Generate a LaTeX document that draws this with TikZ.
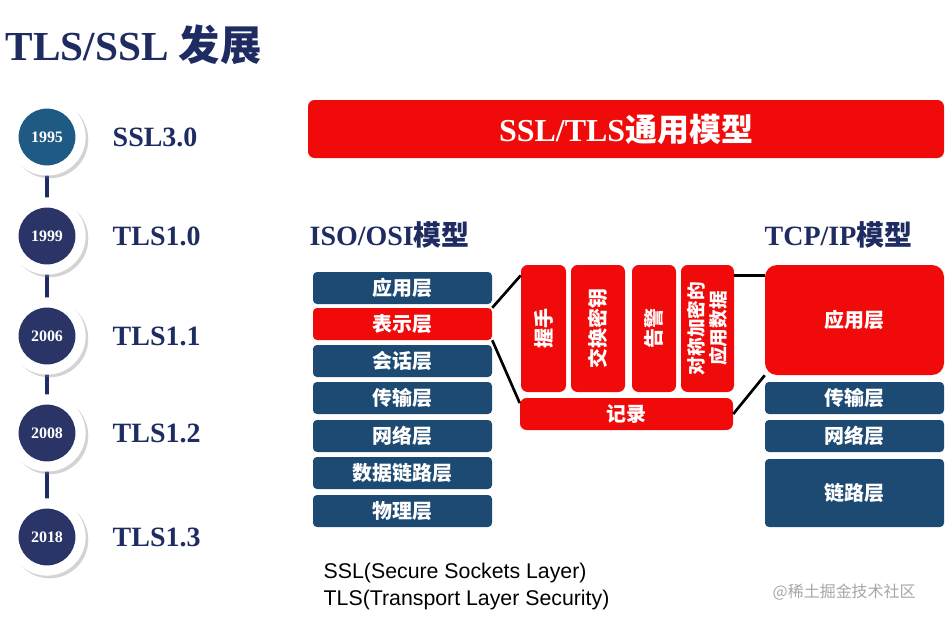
\documentclass[tikz,border=0pt]{standalone}
\usepackage{fontspec}
\setmainfont{Liberation Serif}
\setsansfont{Liberation Sans}
\newfontfamily\cjk{Noto Sans CJK SC}
\usetikzlibrary{shadows}
\definecolor{navy}{HTML}{1E2C62}
\definecolor{teal}{HTML}{1F5A85}
\definecolor{dnavy}{HTML}{2A3466}
\definecolor{lblue}{HTML}{1C4A72}
\definecolor{tred}{HTML}{F00A0A}
\begin{document}
\begin{tikzpicture}[x=0.0264cm,y=-0.0264cm,
 year/.style={circle,minimum size=1.5cm,inner sep=0,text=white,font=\bfseries\fontsize{12}{12}\selectfont},
 ver/.style={anchor=west,text=navy,font=\bfseries\fontsize{21}{21}\selectfont},
 lay/.style={rounded corners=3pt,fill=lblue,text=white,font=\cjk\bfseries\fontsize{15}{15}\selectfont,inner sep=0},
 red/.style={rounded corners=5pt,fill=tred,text=white,font=\cjk\bfseries\fontsize{15}{15}\selectfont,inner sep=0},
 vt/.style={rotate=90,text=white,font=\cjk\bfseries\fontsize{15}{15}\selectfont},
 hd/.style={anchor=west,text=navy,font=\bfseries\fontsize{21}{21}\selectfont}]
\useasboundingbox (0,0) rectangle (951,621);
\node[anchor=west,text=navy,font=\bfseries\fontsize{31}{31}\selectfont] (title) at (1,45) {TLS/SSL {\cjk 发展}};
\draw[navy,line width=2.5pt] (47,137) -- (47,537);
\foreach \y/\t/\c/\v/\n in {137/1995/teal/SSL3.0/a,236/1999/dnavy/TLS1.0/b,336/2006/dnavy/TLS1.1/c,433/2008/dnavy/TLS1.2/d,537/2018/dnavy/TLS1.3/e}{
 \fill[white,drop shadow={opacity=0.35,shadow xshift=2pt,shadow yshift=-2pt}] (47,\y) circle[radius=1.02cm];
 \node[year,fill=\c] (y\n) at (47,\y) {\t};
 \node[ver] (v\n) at (108,\y) {\v};
}
\node[red,minimum width=636*0.0264cm,minimum height=58*0.0264cm,font=\bfseries\fontsize{24}{24}\selectfont] (banner) at (626,129) {SSL/TLS{\cjk 通用模型}};
\node[hd] (iso) at (305,235) {ISO/OSI{\cjk 模型}};
\node[hd] (tcp) at (760,235) {TCP/IP{\cjk 模型}};
\foreach \y/\t/\n/\s in {288/应用层/l1/lay,324/表示层/l2/red,361/会话层/l3/lay,398/传输层/l4/lay,436/网络层/l5/lay,473/数据链路层/l6/lay,511/物理层/l7/lay}{
 \node[\s,rounded corners=3pt,minimum width=179*0.0264cm,minimum height=32*0.0264cm] (\n) at (402.5,\y) {\t};
}
\node[red,minimum width=45*0.0264cm,minimum height=127*0.0264cm] (hs) at (543.5,328.5) {};
\node[vt] at (hs) {握手};
\node[red,minimum width=54*0.0264cm,minimum height=127*0.0264cm] (kx) at (598,328.5) {};
\node[vt] at (kx) {交换密钥};
\node[red,minimum width=44*0.0264cm,minimum height=127*0.0264cm] (al) at (654,328.5) {};
\node[vt] at (al) {告警};
\node[red,minimum width=53*0.0264cm,minimum height=127*0.0264cm] (ad) at (707.5,328.5) {};
\node[vt,align=center,font=\cjk\bfseries\fontsize{14}{16}\selectfont] at (ad) {对称加密的\\应用数据};
\node[red,minimum width=213*0.0264cm,minimum height=32*0.0264cm] (rec) at (626.5,414) {记录};
\node[red,rounded corners=9pt,minimum width=179*0.0264cm,minimum height=110*0.0264cm] (app) at (854.5,320) {应用层};
\node[lay,minimum width=179*0.0264cm,minimum height=32*0.0264cm] (tr) at (854.5,398) {传输层};
\node[lay,minimum width=179*0.0264cm,minimum height=32*0.0264cm] (nw) at (854.5,436) {网络层};
\node[lay,minimum width=179*0.0264cm,minimum height=68*0.0264cm] (lk) at (854.5,493) {链路层};
\draw[line width=2pt] (l2.north east) -- ([yshift=-8pt]hs.north west);
\draw[line width=2pt] (l2.south east) -- ([yshift=-4pt]rec.north west);
\draw[line width=2pt] ([yshift=-8pt]ad.north east) -- ([yshift=-8pt]app.north west);
\draw[line width=2pt] (rec.east) -- (app.south west);
\node[anchor=west,font=\sffamily\fontsize{16}{16}\selectfont] (ssl) at (319,573) {SSL(Secure Sockets Layer)};
\node[anchor=west,font=\sffamily\fontsize{16}{16}\selectfont] (tls) at (319,600) {TLS(Transport Layer Security)};
\node[anchor=west,text=gray!70,font=\cjk\fontsize{12}{12}\selectfont] (wm) at (768,592) {@稀土掘金技术社区};
\end{tikzpicture}
\end{document}
